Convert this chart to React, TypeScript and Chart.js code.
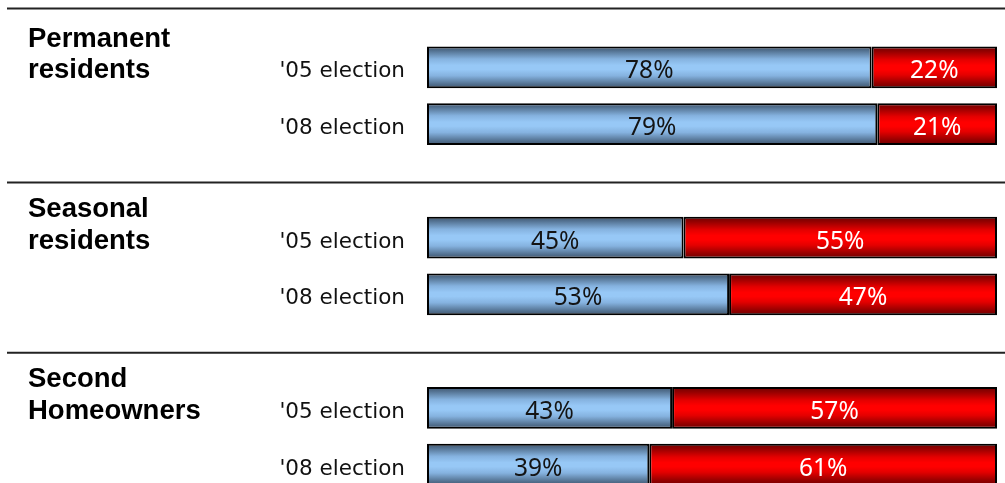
import React, { useEffect, useRef } from "react";
import { Chart, registerables } from "chart.js";

Chart.register(...registerables);

// ---- data ----
const rowLabels = ["'05 election", "'08 election", "", "'05 election", "'08 election", "", "'05 election", "'08 election"];
const groupTitles = [
  ["Permanent", "residents"],
  ["Seasonal", "residents"],
  ["Second", "Homeowners"],
];
const groupStartRows = [0, 3, 6];
const firstShare = [78, 79, null, 45, 53, null, 43, 39];
const secondShare = [22, 21, null, 55, 47, null, 57, 61];

const BAR_PCT = 0.74;

function gradientFor(ctx: any, stops: [number, string][]) {
  const chart = ctx.chart;
  const y = chart.scales && chart.scales.y;
  if (!y || ctx.dataIndex == null || !isFinite(y.height) || y.height <= 0) return stops[3][1];
  const c = y.getPixelForValue(ctx.dataIndex);
  const h = (y.height / rowLabels.length) * BAR_PCT;
  const g = chart.ctx.createLinearGradient(0, c - h / 2, 0, c + h / 2);
  stops.forEach(([o, col]) => g.addColorStop(o, col));
  return g;
}

const blueStops: [number, string][] = [
  [0, "#40566f"],
  [0.1, "#52708f"],
  [0.3, "#85b2df"],
  [0.45, "#97c8f6"],
  [0.55, "#97c8f6"],
  [0.7, "#85b2df"],
  [0.9, "#52708f"],
  [1, "#40566f"],
];
const redStops: [number, string][] = [
  [0, "#700000"],
  [0.12, "#940000"],
  [0.32, "#e40000"],
  [0.45, "#ff0000"],
  [0.55, "#ff0000"],
  [0.68, "#e40000"],
  [0.88, "#940000"],
  [1, "#700000"],
];

const decorPlugin = {
  id: "decor",
  beforeDatasetsDraw(chart: any) {
    const ctx = chart.ctx;
    const y = chart.scales.y;
    const W = chart.width;
    const rowY = (i: number) => y.getPixelForValue(i);
    // separators
    const seps: number[] = [rowY(0) - 59];
    for (let g = 1; g < groupStartRows.length; g++) {
      seps.push((rowY(groupStartRows[g] - 2) + rowY(groupStartRows[g])) / 2 + 1.5);
    }
    ctx.save();
    ctx.strokeStyle = "#222";
    ctx.lineWidth = 2;
    seps.forEach((sy) => {
      ctx.beginPath();
      ctx.moveTo(7, sy);
      ctx.lineTo(W, sy);
      ctx.stroke();
    });
    // group titles
    ctx.fillStyle = "#000";
    ctx.font = "bold 27.5px 'Liberation Sans', Arial, sans-serif";
    ctx.textAlign = "left";
    ctx.textBaseline = "alphabetic";
    groupTitles.forEach((lines, g) => {
      const c = rowY(groupStartRows[g]);
      ctx.fillText(lines[0], 28, c - 20.5);
      ctx.fillText(lines[1], 28, c + 11);
    });
    // row labels
    ctx.font = "21.5px 'DejaVu Sans', sans-serif";
    ctx.textAlign = "right";
    ctx.fillStyle = "#111";
    rowLabels.forEach((lab, i) => {
      if (lab) ctx.fillText(lab, 405, rowY(i) + 10);
    });
    ctx.restore();
  },
  afterDatasetsDraw(chart: any) {
    const ctx = chart.ctx;
    ctx.save();
    ctx.font = "24.5px 'Noto Sans', sans-serif";
    ctx.textAlign = "center";
    ctx.textBaseline = "alphabetic";
    chart.data.datasets.forEach((ds: any, di: number) => {
      const meta = chart.getDatasetMeta(di);
      meta.data.forEach((el: any, i: number) => {
        const v = ds.data[i];
        if (v == null) return;
        const cx = (el.x + el.base) / 2;
        ctx.fillStyle = di === 0 ? "#141414" : "#ffffff";
        ctx.fillText(v + "%", cx, el.y + 11);
      });
    });
    ctx.restore();
  },
};

export default function App() {
  const ref = useRef<HTMLCanvasElement>(null);
  useEffect(() => {
    document.body.style.margin = "0";
    document.body.style.overflow = "hidden";
    document.documentElement.style.overflow = "hidden";
    const canvas = ref.current!;
    const chart = new Chart(canvas, {
      type: "bar",
      data: {
        labels: rowLabels,
        datasets: [
          {
            data: firstShare as any,
            backgroundColor: (c: any) => gradientFor(c, blueStops),
            borderColor: "#000",
            borderWidth: 2,
            borderSkipped: false,
          },
          {
            data: secondShare as any,
            backgroundColor: (c: any) => gradientFor(c, redStops),
            borderColor: "#000",
            borderWidth: 2,
            borderSkipped: false,
          },
        ],
      },
      options: {
        indexAxis: "y",
        responsive: false,
        animation: false,
        datasets: { bar: { barPercentage: BAR_PCT, categoryPercentage: 1 } },
        layout: { padding: { left: 427, right: 8, top: 39, bottom: 7 } },
        plugins: { legend: { display: false }, tooltip: { enabled: false } },
        scales: {
          x: { stacked: true, min: 0, max: 100, display: false },
          y: { stacked: true, display: false, offset: true },
        },
      },
      plugins: [decorPlugin],
    });
    return () => chart.destroy();
  }, []);
  return (
    <div style={{ width: 1005, height: 483, overflow: "hidden", background: "#fff" }}>
      <canvas ref={ref} width={1005} height={500} style={{ display: "block" }} />
    </div>
  );
}
